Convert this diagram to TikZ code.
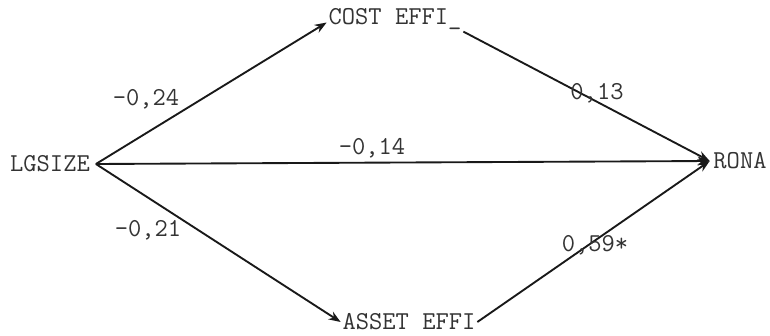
\documentclass[tikz,border=0pt]{standalone}
\usepackage{fontspec}
\usetikzlibrary{arrows.meta}

\begin{document}
\begin{tikzpicture}[x=0.03cm, y=-0.03cm, >=Stealth,
    var/.style={font=\ttfamily\fontsize{22}{26}\selectfont, text=black!80, inner sep=1.5pt},
    coef/.style={font=\ttfamily\fontsize{22}{26}\selectfont, text=black!80},
    path/.style={->, line width=1.6pt, black!90}]
    % Frame of the picture
    \useasboundingbox (0,0) rectangle (770,336);

    % Variables
    \node[var, inner xsep=5pt] (lgsize) at (50,164) {LGSIZE};
    \node[var] (cost) at (395,19) {COST EFFI\_};
    \node[var] (asset) at (409,322) {ASSET EFFI};
    \node[var, inner xsep=3pt] (rona) at (740,161) {RONA};

    % Paths
    \draw[path] (lgsize.east) -- ([yshift=-3pt]cost.west);
    \draw[path] (lgsize.east) -- (asset.west);
    \draw[path] (lgsize.east) -- (rona.west);
    \draw[path] (cost.south east) -- (rona.west);
    \draw[path] (asset.east) -- (rona.west);

    % Coefficients
    \node[coef] (c1) at (146,99) {-0,24};
    \node[coef] (c2) at (372,148) {-0,14};
    \node[coef] (c3) at (597,93) {0,13};
    \node[coef] (c4) at (148,230) {-0,21};
    \node[coef] (c5) at (595,245) {0,59*};
\end{tikzpicture}
\end{document}
